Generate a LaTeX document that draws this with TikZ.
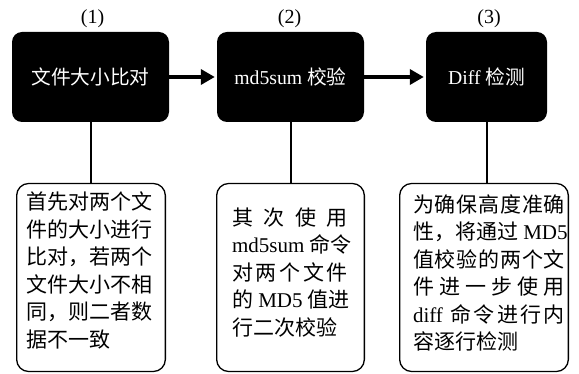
\documentclass[tikz,border=0pt]{standalone}
\usepackage{fontspec}
\setmainfont{Liberation Serif}
\newfontfamily\cjk{Noto Sans CJK SC}
\usetikzlibrary{arrows.meta}
% Latin words inside CJK text
\newcommand\lat[1]{{\rmfamily #1}}
% stretchable gap for justified lines
\newcommand\gl{\hskip 0pt plus 1fil\relax}
% word space between Latin and CJK, also stretchable
\newcommand\gs{\hskip 0.25em plus 1fil\relax}
\newcommand\jline[1]{\makebox[\linewidth][s]{#1}\par}
\tikzset{
  stage/.style={fill=black, rounded corners=10pt, minimum height=90pt,
    inner sep=0pt, text=white, font=\fontsize{19.7}{24}\selectfont},
  note/.style={draw=black, line width=1.3pt, rounded corners=12pt,
    minimum height=188pt, inner sep=0pt},
  notetext/.style={inner sep=0pt, font=\fontsize{21}{27.5}\selectfont\cjk},
  tag/.style={inner sep=0pt, font=\fontsize{20}{24}\selectfont},
  flow/.style={line width=4pt, -{Triangle[length=14pt,width=15pt]}, shorten >=2pt},
  stem/.style={line width=2pt},
}
\begin{document}
\begin{tikzpicture}[x=1pt,y=-1pt]
\useasboundingbox (0,0) rectangle (579,374);

% stage labels
\node[tag] (l1) at (92.5,18.5) {(1)};
\node[tag] (l2) at (289.5,18.5) {(2)};
\node[tag] (l3) at (489,18.5) {(3)};

% process stages
\node[stage, minimum width=157pt] (s1) at (90.5,77) {\cjk 文件大小比对};
\node[stage, minimum width=147pt] (s2) at (290.5,77) {md5sum {\cjk 校验}};
\node[stage, minimum width=121pt] (s3) at (486.5,77) {Diff {\cjk 检测}};

\draw[flow] (s1) -- (s2);
\draw[flow] (s2) -- (s3);

% description boxes
\node[note, minimum width=148.7pt] (b1) at (91,277.5) {};
\node[note, minimum width=147.7pt] (b2) at (290.5,277.5) {};
\node[note, minimum width=168.7pt] (b3) at (484,277.5) {};

\draw[stem] (b1.north |- s1.south) -- (b1.north);
\draw[stem] (b2.north |- s2.south) -- (b2.north);
\draw[stem] (s3.south) -- (s3.south |- b3.north);

\node[notetext] (n1) at (90,270.5) {\parbox{126pt}{%
首先对两个文\par
件的大小进行\par
比对，若两个\par
文件大小不相\par
同，则二者数\par
据不一致}};

\node[notetext] (n2) at (290,272.5) {\parbox{116pt}{%
\jline{其\gl 次\gl 使\gl 用}
\jline{\lat{md5sum}\gs 命令}
\jline{对\gl 两\gl 个\gl 文\gl 件}
\jline{的\gs \lat{MD5}\gs 值进}
行二次校验}};

\node[notetext] (n3) at (489,273) {\parbox{152pt}{%
\jline{为\gl 确\gl 保\gl 高\gl 度\gl 准\gl 确}
\jline{性，将通过\gs \lat{MD5}}
\jline{值\gl 校\gl 验\gl 的\gl 两\gl 个\gl 文}
\jline{件\gl 进\gl 一\gl 步\gl 使\gl 用}
\jline{\lat{diff}\gs 命\gl 令\gl 进\gl 行\gl 内}
容逐行检测}};
\end{tikzpicture}
\end{document}
